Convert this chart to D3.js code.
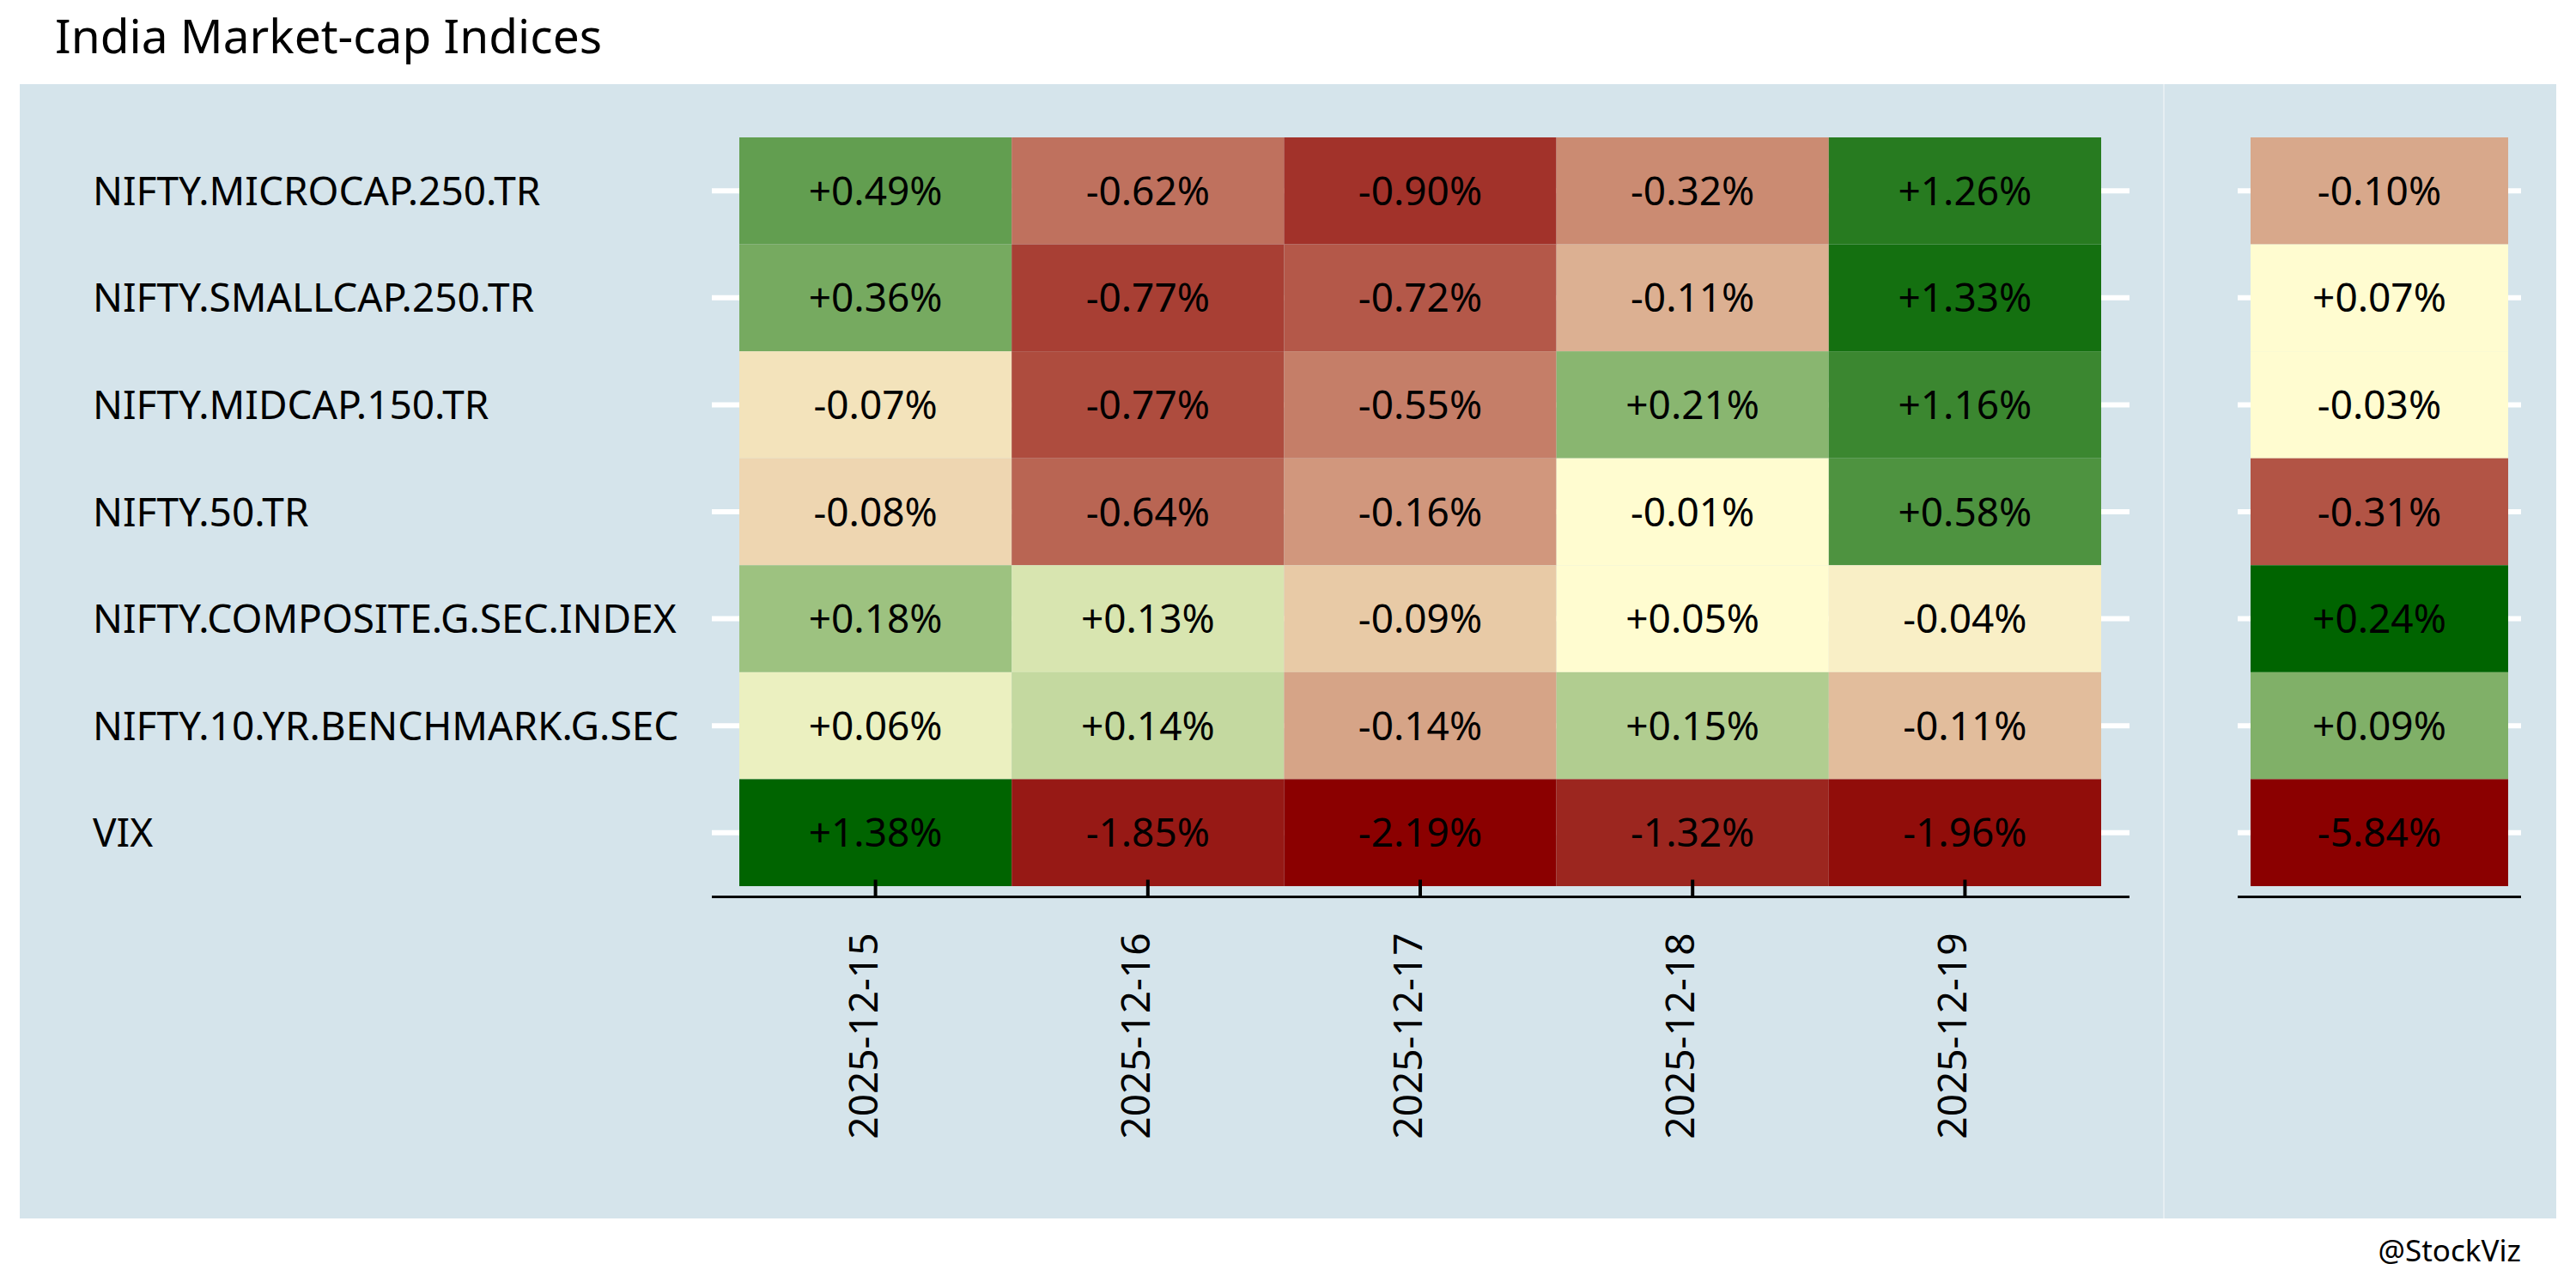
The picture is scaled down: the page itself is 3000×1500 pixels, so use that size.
<!DOCTYPE html>
<html>
<head>
<meta charset="utf-8">
<script src="https://cdn.jsdelivr.net/npm/d3@7"></script>
<style>
  html, body { margin: 0; padding: 0; background: #ffffff; }
  svg { display: block; font-family: "Noto Sans", "Open Sans", sans-serif; }
</style>
</head>
<body>
<svg id="chart" width="3000" height="1500"></svg>
<script>
// ---- data ----
const titleText = "India Market-cap Indices";
const creditText = "@StockViz";
const indices = [
  "NIFTY.MICROCAP.250.TR",
  "NIFTY.SMALLCAP.250.TR",
  "NIFTY.MIDCAP.150.TR",
  "NIFTY.50.TR",
  "NIFTY.COMPOSITE.G.SEC.INDEX",
  "NIFTY.10.YR.BENCHMARK.G.SEC",
  "VIX"
];
const dates = ["2025-12-15", "2025-12-16", "2025-12-17", "2025-12-18", "2025-12-19"];
const microcap  = [0.49, -0.62, -0.90, -0.32, 1.26];
const smallcap  = [0.36, -0.77, -0.72, -0.11, 1.33];
const midcap    = [-0.07, -0.77, -0.55, 0.21, 1.16];
const nifty50   = [-0.08, -0.64, -0.16, -0.01, 0.58];
const compGsec  = [0.18, 0.13, -0.09, 0.05, -0.04];
const tenYrGsec = [0.06, 0.14, -0.14, 0.15, -0.11];
const vix       = [1.38, -1.85, -2.19, -1.32, -1.96];
const weekly    = [-0.10, 0.07, -0.03, -0.31, 0.24, 0.09, -5.84];

const dailyRows = [microcap, smallcap, midcap, nifty50, compGsec, tenYrGsec, vix];

// ---- colours ----
const LOW = "#8b0000", MID = "#fffcd0", HIGH = "#006400";
const BG = "#d5e4eb";

// rank-based diverging fill per panel
function assignFill(cells) {
  const neg = cells.filter(c => c.v < 0).slice().sort((a, b) => a.v - b.v);
  const pos = cells.filter(c => c.v >= 0).slice().sort((a, b) => a.v - b.v);
  const negScale = d3.scaleLinear().domain([0, Math.max(1, neg.length - 1)]).range([LOW, MID]).interpolate(d3.interpolateRgb);
  const posScale = d3.scaleLinear().domain([0, Math.max(1, pos.length - 1)]).range([MID, HIGH]).interpolate(d3.interpolateRgb);
  neg.forEach((c, i) => c.fill = negScale(i));
  pos.forEach((c, i) => c.fill = posScale(i));
}

const locale = d3.formatLocale({decimal: ".", thousands: ",", grouping: [3], currency: ["$", ""], minus: "-"});
const fmt = v => locale.format("+.2f")(v) + "%";

// ---- cells ----
const dailyCells = [];
indices.forEach((name, r) => {
  dates.forEach((dt, c) => dailyCells.push({row: name, col: dt, v: dailyRows[r][c]}));
});
assignFill(dailyCells);
const weekCells = indices.map((name, r) => ({row: name, col: "week", v: weekly[r]}));
assignFill(weekCells);

// ---- layout ----
const FS = 46;
const svg = d3.select("#chart");
svg.append("rect").attr("x", 23).attr("y", 98).attr("width", 2954).attr("height", 1321).attr("fill", BG);
svg.append("line").attr("x1", 2520).attr("x2", 2520).attr("y1", 98).attr("y2", 1419)
  .attr("stroke", "#e6eef2").attr("stroke-width", 2);

const y = d3.scaleBand().domain(indices).range([160, 1032]);
const x1 = d3.scaleBand().domain(dates).range([861, 2447]);
const x2 = d3.scaleBand().domain(["week"]).range([2621, 2921]);

const panels = [
  {x: x1, cells: dailyCells, left: 829, right: 2480, ticks: true},
  {x: x2, cells: weekCells, left: 2606, right: 2936, ticks: false}
];

const axisY = 1044.5;

panels.forEach(p => {
  const g = svg.append("g");
  // horizontal white grid lines
  g.selectAll("line.grid").data(indices).join("line")
    .attr("class", "grid")
    .attr("x1", p.left).attr("x2", p.right)
    .attr("y1", d => y(d) + y.bandwidth() / 2)
    .attr("y2", d => y(d) + y.bandwidth() / 2)
    .attr("stroke", "#ffffff").attr("stroke-width", 6);
  // tiles
  g.selectAll("rect.tile").data(p.cells).join("rect")
    .attr("class", "tile")
    .attr("x", d => p.x(d.col)).attr("y", d => y(d.row))
    .attr("width", p.x.bandwidth()).attr("height", y.bandwidth())
    .attr("fill", d => d.fill);
  // labels
  g.selectAll("text.val").data(p.cells).join("text")
    .attr("class", "val")
    .attr("x", d => p.x(d.col) + p.x.bandwidth() / 2)
    .attr("y", d => y(d.row) + y.bandwidth() / 2)
    .attr("dy", "0.36em")
    .attr("text-anchor", "middle")
    .attr("font-size", FS)
    .attr("fill", "#000")
    .text(d => fmt(d.v));
  // x axis
  if (p.ticks) {
    const ax = g.append("g").attr("transform", `translate(0,${axisY})`)
      .call(d3.axisBottom(p.x).tickSize(-20).tickSizeOuter(0));
    ax.select(".domain").remove();
    ax.selectAll(".tick line").attr("stroke", "#000").attr("stroke-width", 4);
    ax.selectAll(".tick text")
      .attr("transform", "rotate(-90)")
      .attr("text-anchor", "end")
      .attr("x", -42).attr("y", 2).attr("dy", "0")
      .attr("font-size", FS)
      .attr("font-family", "Noto Sans, Open Sans, sans-serif")
      .attr("fill", "#000");
  }
  g.append("line").attr("x1", p.left).attr("x2", p.right)
    .attr("y1", axisY).attr("y2", axisY)
    .attr("stroke", "#000").attr("stroke-width", 3);
});

// y axis labels (left)
const yAxis = svg.append("g").attr("transform", "translate(108,0)")
  .call(d3.axisLeft(y).tickSize(0));
yAxis.select(".domain").remove();
yAxis.selectAll(".tick text")
  .attr("x", 0).attr("dy", "0.36em")
  .attr("text-anchor", "start")
  .attr("font-size", FS)
  .attr("font-family", "Noto Sans, Open Sans, sans-serif")
  .attr("fill", "#000");

// title and credit
svg.append("text").attr("x", 64).attr("y", 62).attr("font-size", 55).attr("fill", "#000").text(titleText);
svg.append("text").attr("x", 2936).attr("y", 1469).attr("text-anchor", "end").attr("font-size", 35).attr("fill", "#000").text(creditText);
</script>
</body>
</html>
